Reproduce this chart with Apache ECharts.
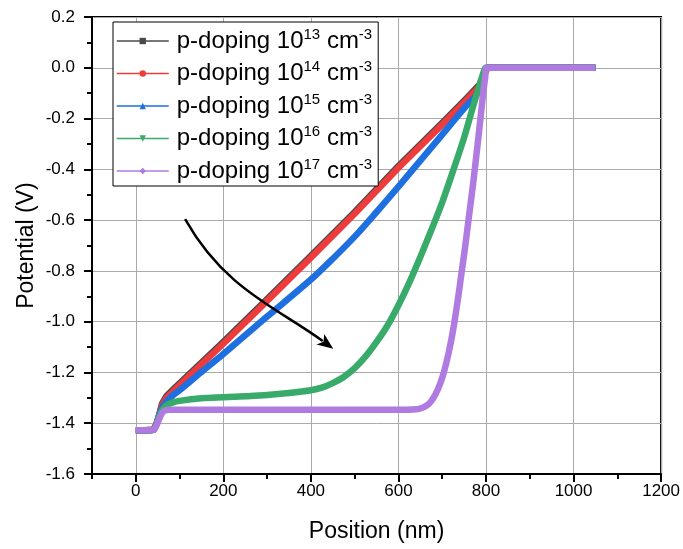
<!DOCTYPE html>
<html>
<head>
<meta charset="utf-8">
<script src="https://cdn.jsdelivr.net/npm/echarts@6/dist/echarts.min.js"></script>
<style>
html,body{margin:0;padding:0;background:#fff;}
#chart{width:683px;height:549px;}
</style>
</head>
<body>
<div id="chart"></div>
<script>
// ---- data ----
const seriesNames = ['p-doping 10^13 cm^-3','p-doping 10^14 cm^-3','p-doping 10^15 cm^-3','p-doping 10^16 cm^-3','p-doping 10^17 cm^-3'];
const exponents = ['13','14','15','16','17'];
const xTickValues = [0,200,400,600,800,1000,1200];

const p13 = [[0,-1.428],[20,-1.428],[40,-1.426],[47,-1.405],[53,-1.37],[60,-1.323],[70,-1.293],[85,-1.268],[100,-1.243],[150,-1.161],[200,-1.08],[300,-0.911],[400,-0.741],[500,-0.568],[600,-0.387],[700,-0.217],[750,-0.13],[785,-0.067],[796,-0.025],[803,0],[900,0],[1000,0],[1050,0]];
const p14 = [[0,-1.428],[20,-1.428],[40,-1.426],[47,-1.405],[53,-1.37],[60,-1.33],[70,-1.30],[85,-1.275],[100,-1.25],[150,-1.168],[200,-1.087],[300,-0.918],[400,-0.748],[500,-0.575],[600,-0.394],[700,-0.224],[750,-0.137],[785,-0.074],[796,-0.03],[803,0],[900,0],[1000,0],[1050,0]];
const p15 = [[0,-1.428],[20,-1.428],[40,-1.426],[47,-1.405],[53,-1.37],[60,-1.34],[70,-1.315],[85,-1.29],[100,-1.27],[150,-1.198],[200,-1.127],[300,-0.98],[400,-0.834],[450,-0.752],[500,-0.665],[550,-0.568],[600,-0.468],[650,-0.366],[700,-0.263],[750,-0.16],[781,-0.10],[795,-0.04],[803,0],[900,0],[1000,0],[1050,0]];
const p16 = [[0,-1.428],[20,-1.428],[40,-1.426],[47,-1.405],[53,-1.375],[60,-1.35],[70,-1.33],[85,-1.318],[100,-1.312],[150,-1.302],[200,-1.298],[250,-1.294],[300,-1.289],[350,-1.281],[400,-1.27],[425,-1.26],[450,-1.242],[475,-1.218],[500,-1.183],[525,-1.137],[550,-1.08],[575,-1.015],[600,-0.935],[625,-0.845],[650,-0.745],[675,-0.64],[700,-0.53],[725,-0.405],[750,-0.275],[770,-0.155],[785,-0.07],[795,-0.015],[800,0],[900,0],[1000,0],[1050,0]];
const p17 = [[0,-1.428],[20,-1.428],[40,-1.426],[47,-1.41],[53,-1.385],[60,-1.36],[68,-1.349],[80,-1.347],[200,-1.347],[400,-1.347],[600,-1.347],[640,-1.345],[655,-1.339],[665,-1.33],[675,-1.313],[685,-1.285],[694,-1.25],[702,-1.21],[709,-1.165],[715,-1.12],[721,-1.07],[728,-1.0],[736,-0.91],[744,-0.81],[752,-0.71],[760,-0.6],[770,-0.465],[781,-0.3],[787,-0.205],[793,-0.11],[798,-0.04],[802,0],[900,0],[1000,0],[1050,0]];

// annotation arrow in data coordinates: start, control1, control2, tip
const arrowPts = [[112.7,-0.596],[203.9,-0.875],[324.7,-0.946],[451,-1.107]];

const seriesData = [p13,p14,p15,p16,p17];
const colors = ['#4a4a4a','#ee3b3b','#1e6fdf','#38aa6a','#b07be0'];
const symbols = ['rect','circle','triangle','path://M0,0 L10,0 L5,9 Z','diamond'];

const FONT = '"Liberation Sans", Arial, sans-serif';
const chart = echarts.init(document.getElementById('chart'), null, {renderer:'canvas'});

const series = seriesData.map((d,i)=>({
  name: seriesNames[i],
  type: 'line',
  data: d,
  xAxisIndex: 0,
  yAxisIndex: 0,
  smooth: i >= 2 ? 0.3 : false,
  showSymbol: false,
  symbol: symbols[i],
  symbolSize: 7,
  color: colors[i],
  lineStyle: {width: 6.5, color: colors[i], join: 'round'},
  itemStyle: {color: colors[i]},
  animation: false,
  z: 2 + i
}));

chart.setOption({
  animation: false,
  backgroundColor: '#fff',
  grid: {left: 92, right: 21, top: 17, bottom: 75, show: true, borderColor: '#000', borderWidth: 2, backgroundColor: 'transparent'},
  legend: {
    data: seriesNames,
    orient: 'vertical',
    left: 113, top: 22,
    padding: [5, 6, 3, 3],
    itemGap: 6.5,
    itemWidth: 52,
    itemHeight: 8,
    borderColor: '#000', borderWidth: 1, backgroundColor: '#fff',
    lineStyle: {width: 1.5},
    formatter: function(name){
      const i = seriesNames.indexOf(name);
      return '{f|p-doping 10}{s|' + exponents[i] + '}{t| cm}{s|-3}';
    },
    textStyle: {
      fontFamily: FONT, color: '#000',
      rich: {
        f: {fontSize: 24, lineHeight: 28, fontFamily: FONT, color: '#000', padding: [0,0,0,3]},
        t: {fontSize: 24, lineHeight: 28, fontFamily: FONT, color: '#000'},
        s: {fontSize: 15, lineHeight: 15, verticalAlign: 'top', fontFamily: FONT, color: '#000'}
      }
    },
    z: 20
  },
  xAxis: [{
    type: 'value', min: -100, max: 1200, interval: 100,
    position: 'bottom',
    name: 'Position (nm)', nameLocation: 'middle', nameGap: 46,
    nameTextStyle: {fontSize: 23, fontFamily: FONT, color: '#000'},
    axisLine: {show: true, onZero: false, lineStyle: {color: '#000', width: 2}},
    axisTick: {show: true, inside: false, length: 8, lineStyle: {color: '#000', width: 2}, customValues: xTickValues},
    axisLabel: {customValues: xTickValues, fontSize: 17, fontFamily: FONT, color: '#000', margin: 9,
      formatter: v => String(v)},
    splitLine: {show: true, lineStyle: {color: '#aaaaaa', width: 1}},
    minorTick: {show: false}
  },{
    type: 'value', min: -100, max: 1200, interval: 100,
    position: 'bottom',
    axisLine: {show: false, onZero: false},
    axisTick: {show: true, inside: false, length: 5, lineStyle: {color: '#000', width: 2}},
    axisLabel: {show: false},
    splitLine: {show: false}
  }],
  yAxis: [{
    type: 'value', min: -1.6, max: 0.2, interval: 0.2,
    name: 'Potential (V)', nameLocation: 'middle', nameGap: 54, nameMoveOverlap: false,
    nameTextStyle: {fontSize: 23, fontFamily: FONT, color: '#000'},
    axisLine: {show: true, onZero: false, lineStyle: {color: '#000', width: 2}},
    axisTick: {show: true, inside: false, length: 8, lineStyle: {color: '#000', width: 2}},
    minorTick: {show: true, splitNumber: 2, length: 5, lineStyle: {color: '#000', width: 2}},
    axisLabel: {fontSize: 17, fontFamily: FONT, color: '#000', margin: 17,
      formatter: v => (Math.abs(v) < 1e-9 ? 0 : v).toFixed(1)},
    splitLine: {show: true, lineStyle: {color: '#aaaaaa', width: 1}}
  }],
  series: series
});

// annotation arrow (curved, black) placed through the axis scales
const px = arrowPts.map(p => chart.convertToPixel({xAxisIndex: 0, yAxisIndex: 0}, p));
const tip = px[3], c2 = px[2];
let dx = tip[0]-c2[0], dy = tip[1]-c2[1];
const len = Math.hypot(dx,dy); dx/=len; dy/=len;
const headL = 16, headW = 6.5;
const base = [tip[0]-dx*headL, tip[1]-dy*headL];
chart.setOption({
  graphic: [{
    type: 'bezierCurve',
    shape: {x1: px[0][0], y1: px[0][1], cpx1: px[1][0], cpy1: px[1][1], cpx2: px[2][0], cpy2: px[2][1], x2: base[0]+dx*3, y2: base[1]+dy*3},
    style: {stroke: '#000', lineWidth: 2.5, fill: null},
    z: 30
  },{
    type: 'polygon',
    shape: {points: [tip, [base[0]-dy*headW, base[1]+dx*headW], [base[0]+dx*4, base[1]+dy*4], [base[0]+dy*headW, base[1]-dx*headW]]},
    style: {fill: '#000'},
    z: 30
  }]
});
</script>
</body>
</html>
